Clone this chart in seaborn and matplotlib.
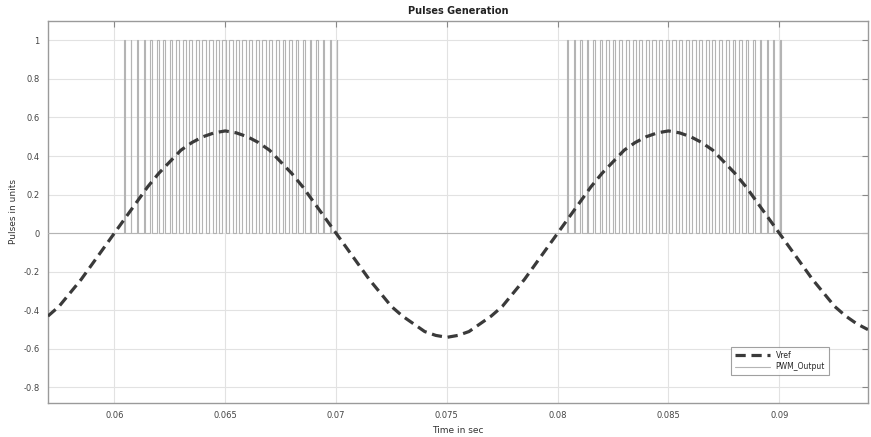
import numpy as np
import pandas as pd
import matplotlib
matplotlib.use("Agg")
import matplotlib.pyplot as plt
import seaborn as sns

# ---- data ----
# Vref samples every 0.5 ms from 57 ms to 94 ms
vref_t_ms = [57.0 + 0.5 * k for k in range(75)]
vref_vals = [-0.43, -0.38, -0.31, -0.24, -0.16, -0.08,
             0.00, 0.08, 0.16, 0.24, 0.31, 0.37, 0.43, 0.47, 0.50, 0.52,
             0.53, 0.52, 0.50, 0.47, 0.43, 0.37, 0.31, 0.24, 0.16, 0.08,
             0.00, -0.08, -0.16, -0.24, -0.31, -0.38, -0.43, -0.47, -0.51, -0.53,
             -0.54, -0.53, -0.51, -0.47, -0.43, -0.38, -0.31, -0.24, -0.16, -0.08,
             0.00, 0.08, 0.16, 0.24, 0.31, 0.37, 0.43, 0.47, 0.50, 0.52,
             0.53, 0.52, 0.50, 0.47, 0.43, 0.37, 0.31, 0.24, 0.16, 0.08,
             0.00, -0.08, -0.16, -0.24, -0.31, -0.38, -0.43, -0.47, -0.50]

# PWM: pulse groups (first pulse centre, ms), carrier period (ms), duty cycles
group_starts_ms = [60.45, 80.45]
carrier_period_ms = 0.3
duties = [0.07, 0.12, 0.17, 0.22, 0.27, 0.31, 0.35, 0.38, 0.42, 0.45, 0.47,
          0.49, 0.51, 0.52, 0.53, 0.53, 0.53, 0.53, 0.53, 0.52, 0.51, 0.49,
          0.47, 0.45, 0.42, 0.38, 0.35, 0.31, 0.27, 0.22, 0.17, 0.12, 0.07]

x_ticks = [0.06, 0.065, 0.07, 0.075, 0.08, 0.085, 0.09]
x_ticklabels = ["0.06", "0.065", "0.07", "0.075", "0.08", "0.085", "0.09"]
y_ticks = [-0.8, -0.6, -0.4, -0.2, 0, 0.2, 0.4, 0.6, 0.8, 1]
y_ticklabels = ["-0.8", "-0.6", "-0.4", "-0.2", "0", "0.2", "0.4", "0.6", "0.8", "1"]
x_lim = (0.057, 0.094)
y_lim = (-0.88, 1.1)

# ---- build tables ----
vref_df = pd.DataFrame({"t": np.array(vref_t_ms) / 1000.0, "v": vref_vals})

pt, pv = [x_lim[0]], [0.0]
for gs in group_starts_ms:
    for i, d in enumerate(duties):
        c = gs + i * carrier_period_ms
        r = (c - d * carrier_period_ms / 2) / 1000.0
        f = (c + d * carrier_period_ms / 2) / 1000.0
        pt += [r, r, f, f]
        pv += [0.0, 1.0, 1.0, 0.0]
pt.append(x_lim[1]); pv.append(0.0)
pwm_df = pd.DataFrame({"t": pt, "v": pv})

# ---- plot ----
sns.set_style("white")
plt.rcParams["font.family"] = ["DejaVu Sans"]
fig = plt.figure(figsize=(8.71, 4.37), dpi=100)
ax = fig.add_axes([0.055, 0.078, 0.9415, 0.874])

sns.lineplot(data=vref_df, x="t", y="v", ax=ax, color="#3a3a3a", lw=2.3,
             estimator=None, sort=False, label="Vref", zorder=4)
ax.lines[-1].set_dashes((3.2, 1.8))
sns.lineplot(data=pwm_df, x="t", y="v", ax=ax, color="#b4b4b4", lw=0.8,
             estimator=None, sort=False, label="PWM_Output", zorder=3)

ax.set_xlim(*x_lim)
ax.set_ylim(*y_lim)
ax.set_xticks(x_ticks)
ax.set_xticklabels(x_ticklabels)
ax.set_yticks(y_ticks)
ax.set_yticklabels(y_ticklabels)
ax.grid(True, color="#e2e2e2", lw=0.8, zorder=0)
ax.set_axisbelow(True)
ax.tick_params(direction="in", length=4, width=0.8, color="#888888",
               labelsize=6, labelcolor="#444444", top=True, right=True,
               pad=6)
for s in ax.spines.values():
    s.set_color("#9a9a9a")
    s.set_linewidth(1.0)

ax.set_title("Pulses Generation", fontsize=7, fontweight="bold", color="#222222", pad=5)
ax.set_xlabel("Time in sec", fontsize=6.5, color="#333333", labelpad=4)
ax.set_ylabel("Pulses in units", fontsize=6.5, color="#333333", labelpad=4)

leg = ax.legend(loc="lower right", bbox_to_anchor=(0.957, 0.063), fontsize=5.5,
                frameon=True, fancybox=False, edgecolor="#888888",
                handlelength=4.5, borderpad=0.5, labelspacing=0.3)
leg.get_frame().set_linewidth(0.8)

fig.savefig("out.png", dpi=100)
